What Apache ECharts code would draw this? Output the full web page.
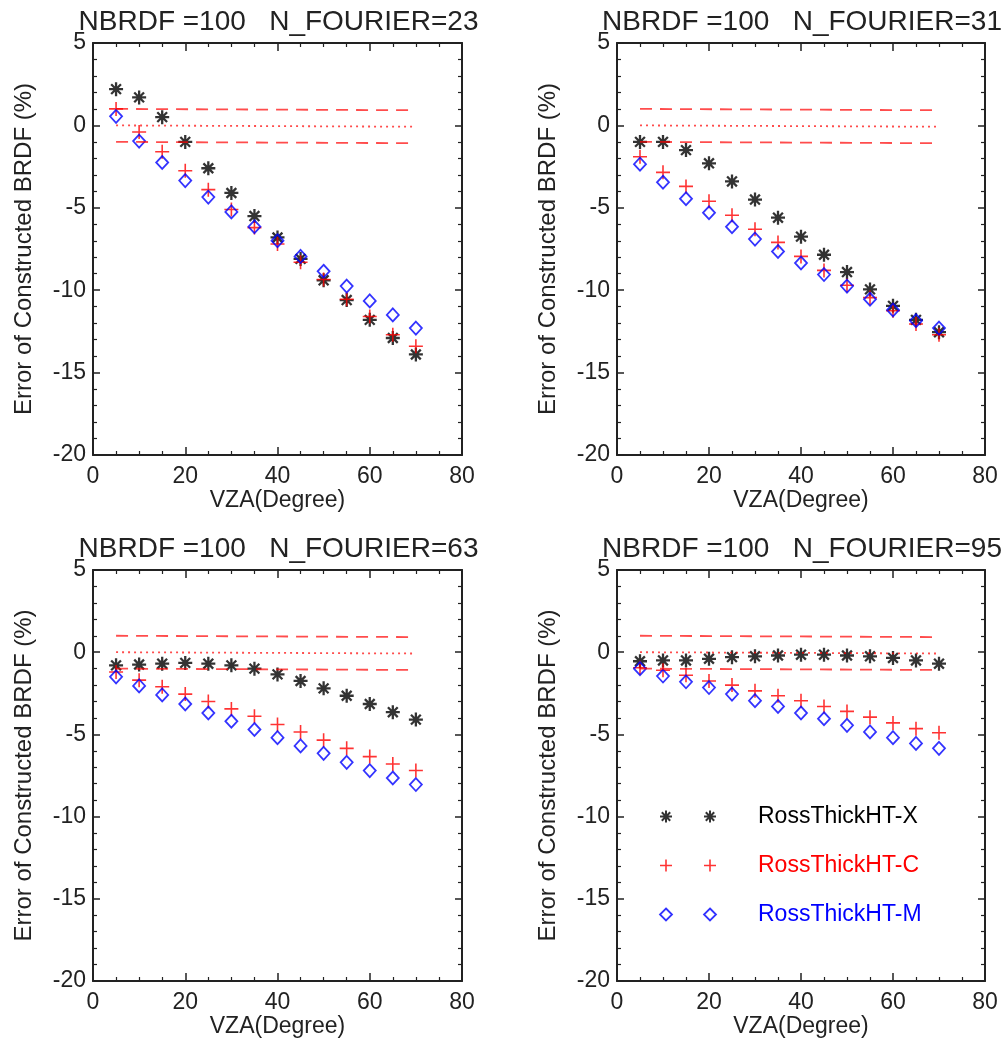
<!DOCTYPE html>
<html>
<head>
<meta charset="utf-8">
<script src="https://cdn.jsdelivr.net/npm/echarts@6/dist/echarts.min.js"></script>
<style>
  html, body { margin: 0; padding: 0; background: #fff; }
  #main { width: 1008px; height: 1039px; }
</style>
</head>
<body>
<div id="main"></div>
<script>
// view zenith angles (x axis)
var vza = [5, 10, 15, 20, 25, 30, 35, 40, 45, 50, 55, 60, 65, 70];

// N_FOURIER = 23
var x23 = [2.2, 1.7, 0.5, -1.0, -2.6, -4.1, -5.5, -6.8, -8.1, -9.4, -10.6, -11.8, -12.9, -13.9];
var c23 = [1.0, -0.4, -1.6, -2.75, -3.9, -5.1, -6.2, -7.2, -8.3, -9.35, -10.55, -11.6, -12.7, -13.4];
var m23 = [0.55, -0.95, -2.25, -3.35, -4.35, -5.25, -6.15, -7.0, -7.95, -8.85, -9.75, -10.65, -11.5, -12.3];
// N_FOURIER = 31
var x31 = [-1.0, -1.0, -1.5, -2.3, -3.4, -4.5, -5.6, -6.75, -7.85, -8.9, -9.95, -10.95, -11.8, -12.55];
var c31 = [-1.9, -2.85, -3.7, -4.6, -5.45, -6.3, -7.1, -7.95, -8.8, -9.7, -10.45, -11.25, -12.05, -12.7];
var m31 = [-2.35, -3.45, -4.45, -5.3, -6.15, -6.9, -7.65, -8.35, -9.05, -9.75, -10.55, -11.2, -11.85, -12.3];
// N_FOURIER = 63
var x63 = [-0.8, -0.75, -0.7, -0.65, -0.7, -0.8, -1.0, -1.35, -1.75, -2.2, -2.65, -3.15, -3.65, -4.1];
var c63 = [-1.2, -1.7, -2.1, -2.55, -3.0, -3.45, -3.9, -4.4, -4.85, -5.35, -5.85, -6.35, -6.8, -7.2];
var m63 = [-1.5, -2.05, -2.6, -3.15, -3.7, -4.2, -4.7, -5.2, -5.7, -6.15, -6.7, -7.2, -7.65, -8.05];
// N_FOURIER = 95
var x95 = [-0.55, -0.5, -0.5, -0.4, -0.3, -0.25, -0.2, -0.15, -0.15, -0.2, -0.25, -0.35, -0.5, -0.7];
var c95 = [-0.95, -1.1, -1.4, -1.75, -2.0, -2.35, -2.65, -2.95, -3.3, -3.6, -3.95, -4.3, -4.65, -4.9];
var m95 = [-1.0, -1.45, -1.8, -2.15, -2.55, -2.95, -3.3, -3.7, -4.05, -4.45, -4.85, -5.2, -5.55, -5.85];

// reference lines (+1 %, 0 %, -1 %)
var refX = [5, 70];
var refUpper = [1.0, 0.92];
var refZero = [0.0, -0.08];
var refLower = [-1.0, -1.08];

var fourier = [23, 31, 63, 95];
var xSets = [x23, x31, x63, x95];
var cSets = [c23, c31, c63, c95];
var mSets = [m23, m31, m63, m95];

var names = ['RossThickHT-X', 'RossThickHT-C', 'RossThickHT-M'];

var FONT = '"Liberation Sans", Arial, Helvetica, sans-serif';
var INK = '#222';

var starPath = 'path://M0,6L12,6M6,0L6,12M1.8,1.8L10.2,10.2M10.2,1.8L1.8,10.2';
var plusPath = 'path://M0,6L12,6M6,0L6,12';

var boxes = [
	{ left: 93, top: 43, width: 369, height: 412 },
	{ left: 617, top: 43, width: 368, height: 412 },
	{ left: 93, top: 570, width: 369, height: 411 },
	{ left: 617, top: 570, width: 368, height: 411 }
];

function pairs(xs, ys) {
	var out = [];
	for (var i = 0; i < xs.length; i++) {
		out.push([xs[i], ys[i]]);
	}
	return out;
}

var grid = [], xAxis = [], yAxis = [], series = [], title = [];

for (var p = 0; p < 4; p++) {
	var b = boxes[p];
	grid.push({ left: b.left, top: b.top, width: b.width, height: b.height });

	title.push({
		text: 'NBRDF =100   N_FOURIER=' + fourier[p],
		left: b.left + b.width / 2 - 4,
		top: b.top - 40,
		textAlign: 'center',
		textStyle: { fontFamily: FONT, fontSize: 28, fontWeight: 'normal', color: INK }
	});

	var axLine = { show: true, onZero: false, lineStyle: { color: INK, width: 2 } };

	// bottom and top x axes
	for (var k = 0; k < 2; k++) {
		xAxis.push({
			gridIndex: p,
			type: 'value',
			position: k === 0 ? 'bottom' : 'top',
			min: 0, max: 80, interval: 20,
			axisLine: axLine,
			axisTick: { show: true, inside: true, length: 8, lineStyle: { color: INK, width: 1.5 } },
			minorTick: { show: true, splitNumber: 4, length: 4, lineStyle: { color: INK, width: 1.2 } },
			splitLine: { show: false },
			axisLabel: { show: k === 0, fontFamily: FONT, fontSize: 23, color: INK, margin: 10 },
			name: k === 0 ? 'VZA(Degree)' : '',
			nameLocation: 'middle',
			nameGap: 33,
			nameTextStyle: { fontFamily: FONT, fontSize: 23, color: INK }
		});
	}
	// left and right y axes
	for (var k = 0; k < 2; k++) {
		yAxis.push({
			gridIndex: p,
			type: 'value',
			position: k === 0 ? 'left' : 'right',
			min: -20, max: 5, interval: 5,
			axisLine: axLine,
			axisTick: { show: true, inside: true, length: 7, lineStyle: { color: INK, width: 1.5 } },
			minorTick: { show: true, splitNumber: 5, length: 4, lineStyle: { color: INK, width: 1.2 } },
			splitLine: { show: false },
			axisLabel: { show: k === 0, fontFamily: FONT, fontSize: 23, color: INK, margin: 7 },
			name: k === 0 ? 'Error of Constructed BRDF (%)' : '',
			nameLocation: 'middle',
			nameRotate: 90,
			nameGap: 57,
			nameTextStyle: { fontFamily: FONT, fontSize: 24, color: INK }
		});
	}

	var xi = p * 2, yi = p * 2;
	var refs = [[refUpper, [12, 8]], [refZero, [2, 4]], [refLower, [12, 8]]];
	for (var r = 0; r < refs.length; r++) {
		series.push({
			type: 'line',
			xAxisIndex: xi, yAxisIndex: yi,
			data: pairs(refX, refs[r][0]),
			symbol: 'none',
			silent: true,
			lineStyle: { color: '#ff0000', width: 1.8, type: refs[r][1], opacity: 0.7 }
		});
	}

	series.push({
		name: names[0], type: 'scatter', xAxisIndex: xi, yAxisIndex: yi,
		symbol: starPath, symbolSize: 14,
		itemStyle: { color: 'rgba(0,0,0,0)', borderColor: '#000', borderWidth: 2.3 },
		data: pairs(vza, xSets[p])
	});
	series.push({
		name: names[1], type: 'scatter', xAxisIndex: xi, yAxisIndex: yi,
		symbol: plusPath, symbolSize: 14,
		itemStyle: { color: 'rgba(0,0,0,0)', borderColor: '#ff0000', borderWidth: 1.6 },
		data: pairs(vza, cSets[p])
	});
	series.push({
		name: names[2], type: 'scatter', xAxisIndex: xi, yAxisIndex: yi,
		symbol: 'diamond', symbolSize: [12, 13],
		itemStyle: { color: 'rgba(0,0,0,0)', borderColor: '#0000ff', borderWidth: 1.8 },
		data: pairs(vza, mSets[p])
	});
}

var myChart = echarts.init(document.getElementById('main'), null, { renderer: 'canvas' });
myChart.setOption({
	animation: false,
	backgroundColor: '#fff',
	title: title,
	grid: grid,
	xAxis: xAxis,
	yAxis: yAxis,
	legend: {
		orient: 'vertical',
		left: 659,
		top: 805,
		padding: 0,
		itemGap: 26,
		itemWidth: 56,
		itemHeight: 12,
		selectedMode: false,
		textStyle: { fontFamily: FONT, fontSize: 23, padding: [0, 0, 0, 37] },
		data: [
			{ name: names[0], icon: 'path://M0,6L12,6M6,0L6,12M1.8,1.8L10.2,10.2M10.2,1.8L1.8,10.2M44,6L56,6M50,0L50,12M45.8,1.8L54.2,10.2M54.2,1.8L45.8,10.2',
				itemStyle: { color: 'rgba(0,0,0,0)', borderColor: '#000', borderWidth: 2 }, textStyle: { color: '#000' } },
			{ name: names[1], icon: 'path://M0,6L12,6M6,0L6,12M44,6L56,6M50,0L50,12',
				itemStyle: { color: 'rgba(0,0,0,0)', borderColor: '#ff0000', borderWidth: 1.6 }, textStyle: { color: '#ff0000' } },
			{ name: names[2], icon: 'path://M6,0L12,6L6,12L0,6ZM50,0L56,6L50,12L44,6Z',
				itemStyle: { color: 'rgba(0,0,0,0)', borderColor: '#0000ff', borderWidth: 1.8 }, textStyle: { color: '#0000ff' } }
		]
	},
	series: series
});
</script>
</body>
</html>
